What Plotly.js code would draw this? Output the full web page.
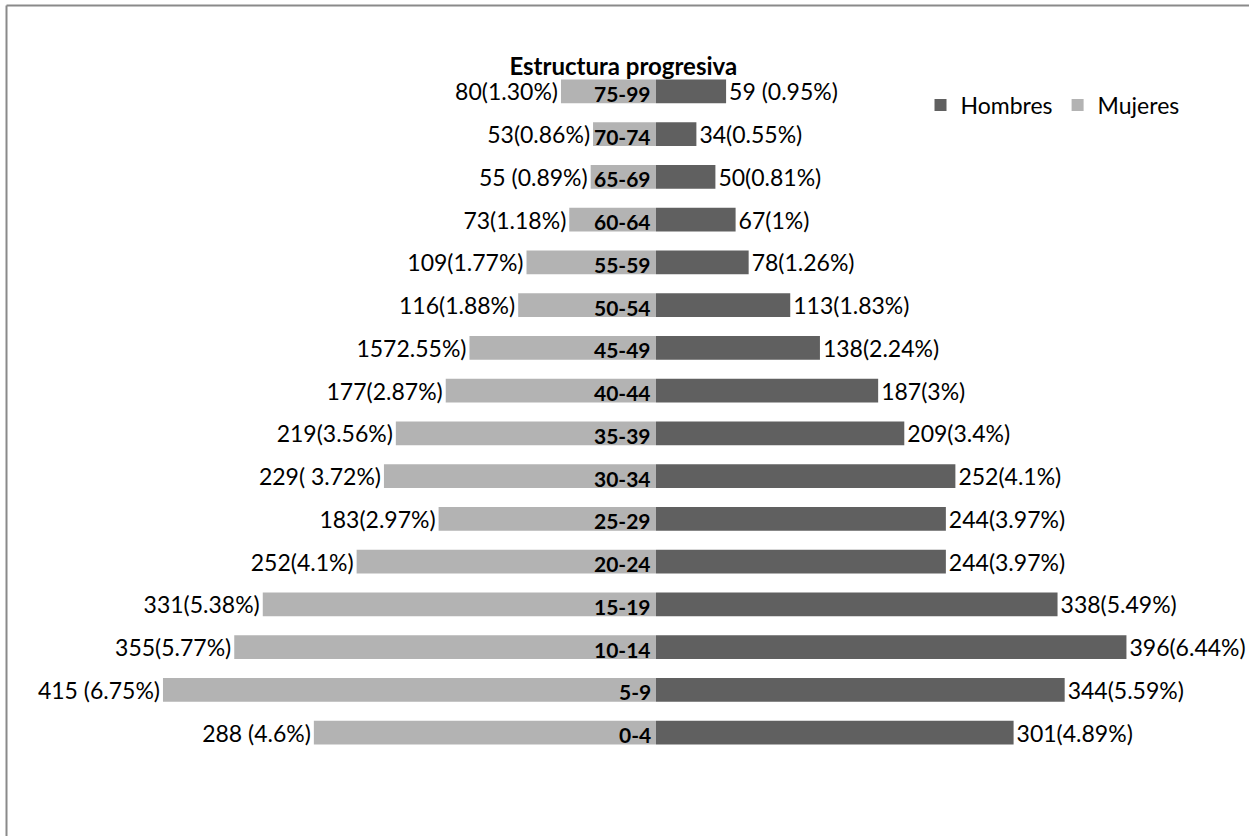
<!DOCTYPE html>
<html>
<head>
<meta charset="utf-8">
<script src="https://cdn.plot.ly/plotly-3.0.1.min.js"></script>
<style>html,body{margin:0;padding:0;background:#fff;}#chart{width:1249px;height:836px;}</style>
</head>
<body>
<div id="chart"></div>
<script>
const categories = ["0-4","5-9","10-14","15-19","20-24","25-29","30-34","35-39","40-44","45-49","50-54","55-59","60-64","65-69","70-74","75-99"];
const hombres = [301,344,396,338,244,244,252,209,187,138,113,78,67,50,34,59];
const mujeres = [288,415,355,331,252,183,229,219,177,157,116,109,73,55,53,80];
const hombresLabels = ["301(4.89%)","344(5.59%)","396(6.44%)","338(5.49%)","244(3.97%)","244(3.97%)","252(4.1%)","209(3.4%)","187(3%)","138(2.24%)","113(1.83%)","78(1.26%)","67(1%)","50(0.81%)","34(0.55%)","59 (0.95%)"];
const mujeresLabels = ["288 (4.6%)","415 (6.75%)","355(5.77%)","331(5.38%)","252(4.1%)","183(2.97%)","229( 3.72%)","219(3.56%)","177(2.87%)","1572.55%)","116(1.88%)","109(1.77%)","73(1.18%)","55 (0.89%)","53(0.86%)","80(1.30%)"];
const chartTitle = "Estructura progresiva";

const FONT = "Lato, 'Open Sans', sans-serif";

const traces = [
  {
    type: "bar", orientation: "h", name: "Hombres",
    y: categories, x: hombres,
    text: hombresLabels, textposition: "outside", constraintext: "none", cliponaxis: false,
    textfont: {family: FONT, size: 23, color: "#000"},
    marker: {color: "#606060"},
    hoverinfo: "skip"
  },
  {
    type: "bar", orientation: "h", name: "Mujeres",
    y: categories, x: mujeres.map(v => -v),
    text: mujeresLabels, textposition: "outside", constraintext: "none", cliponaxis: false,
    textfont: {family: FONT, size: 23, color: "#000"},
    marker: {color: "#b3b3b3"},
    hoverinfo: "skip"
  }
];

const annotations = categories.map(c => ({
  x: 0, y: c, xref: "x", yref: "y",
  text: "<b>" + c + "</b>", showarrow: false,
  xanchor: "right", yanchor: "middle", xshift: -3, yshift: -2,
  font: {family: FONT, size: 21, color: "#000"}
}));

const layout = {
  width: 1249, height: 836,
  margin: {l: 0, r: 0, t: 70, b: 82, pad: 0, autoexpand: false},
  paper_bgcolor: "#fff", plot_bgcolor: "#fff",
  barmode: "relative", bargap: 0.44,
  showlegend: true,
  legend: {orientation: "h", x: 0.737, y: (754-105)/684, xref: "paper", yref: "paper", xanchor: "left", yanchor: "middle",
           font: {family: FONT, size: 23, color: "#000"}, traceorder: "normal", itemwidth: 30, bgcolor: "rgba(0,0,0,0)"},
  title: {text: "<b>" + chartTitle + "</b>", x: 0.499, xanchor: "center", y: 1 - 67/836, yanchor: "middle",
          font: {family: FONT, size: 24, color: "#000"}},
  xaxis: {range: [-656/1.188, (1249-656)/1.188], visible: false, fixedrange: true},
  yaxis: {type: "category", categoryorder: "array", categoryarray: categories, visible: false, fixedrange: true},
  annotations: annotations,
  shapes: [
    {type: "line", xref: "paper", yref: "paper", x0: 6.5/1249, x1: 6.5/1249, y0: -0.2, y1: (754-5.5)/684, line: {color: "#8a8a8a", width: 2}},
    {type: "line", xref: "paper", yref: "paper", x0: 6.5/1249, x1: 1.05, y0: (754-5.5)/684, y1: (754-5.5)/684, line: {color: "#8a8a8a", width: 2}}
  ]
};

Plotly.newPlot("chart", traces, layout, {displayModeBar: false, staticPlot: true});
</script>
</body>
</html>
